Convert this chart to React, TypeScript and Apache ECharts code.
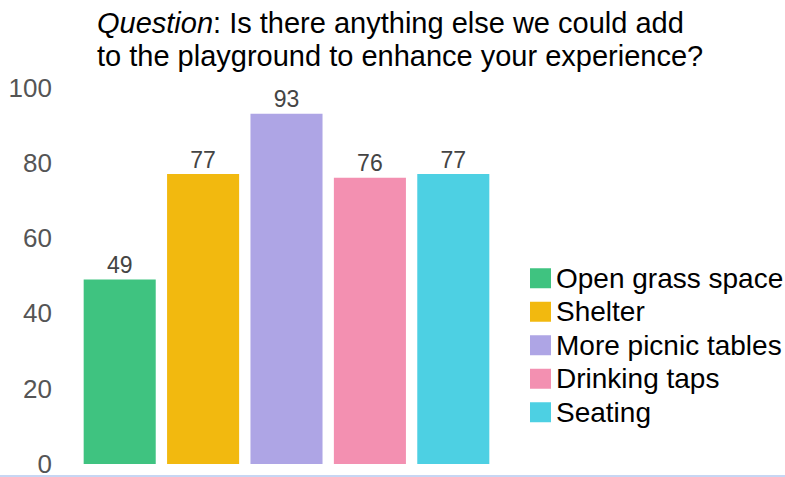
import React, { useEffect, useRef } from "react";
import * as echarts from "echarts";

const categories = ["Open grass space", "Shelter", "More picnic tables", "Drinking taps", "Seating"];
const values = [49, 77, 93, 76, 77];
const colors = ["#3FC380", "#F2B90F", "#AEA5E5", "#F390B1", "#4DD0E3"];
const yTicks = [0, 20, 40, 60, 80, 100];

const FONT = "Liberation Sans, Arial, sans-serif";

export default function App() {
  const ref = useRef<HTMLDivElement>(null);
  useEffect(() => {
    const chart = echarts.init(ref.current!, null, { renderer: "svg" });
    const series = categories.map((name, i) => ({
      name,
      type: "bar",
      stack: "all",
      barCategoryGap: "13.6%",
      itemStyle: { color: colors[i] },
      label: {
        show: true,
        position: "top",
        distance: 3,
        color: "#444",
        fontSize: 23,
        fontFamily: FONT,
      },
      data: categories.map((_, j) => (j === i ? values[i] : "-")),
    }));
    chart.setOption({
      animation: false,
      title: {
        left: 92,
        top: 1,
        text: "{i|Question}: Is there anything else we could add\nto the playground to enhance your experience?",
        textStyle: {
          fontSize: 29,
          fontWeight: "normal",
          color: "#000",
          fontFamily: FONT,
          lineHeight: 33,
          rich: {
            i: {
              fontSize: 29,
              fontStyle: "italic",
              color: "#000",
              fontFamily: FONT,
              lineHeight: 33,
            },
          },
        },
      },
      legend: {
        orient: "vertical",
        left: 525,
        top: 259,
        itemWidth: 21,
        itemHeight: 20,
        itemGap: 5,
        icon: "rect",
        data: categories,
        textStyle: {
          fontSize: 28,
          color: "#000",
          fontFamily: FONT,
          lineHeight: 28.5,
          padding: [0, 0, 0, 0],
        },
      },
      grid: { left: 78, top: 87.5, width: 417, height: 377.5, containLabel: false },
      xAxis: {
        type: "category",
        data: categories,
        axisLine: { show: false },
        axisTick: { show: false },
        axisLabel: { show: false },
      },
      yAxis: {
        type: "value",
        min: 0,
        max: 100,
        interval: 20,
        splitLine: { show: false },
        axisLine: { show: false },
        axisTick: { show: false },
        axisLabel: {
          margin: 26,
          fontSize: 26,
          lineHeight: 22,
          color: "#555",
          fontFamily: FONT,
          formatter: (v: number) => (yTicks.includes(v) ? String(v) : ""),
        },
      },
      graphic: [
        {
          type: "line",
          shape: { x1: 0, y1: 476, x2: 785, y2: 476 },
          style: { stroke: "#B5C8EF", lineWidth: 1.5 },
        },
      ],
      series,
    });
    return () => chart.dispose();
  }, []);
  return <div ref={ref} style={{ width: 785, height: 477, position: "absolute", left: 0, top: 0 }} />;
}
